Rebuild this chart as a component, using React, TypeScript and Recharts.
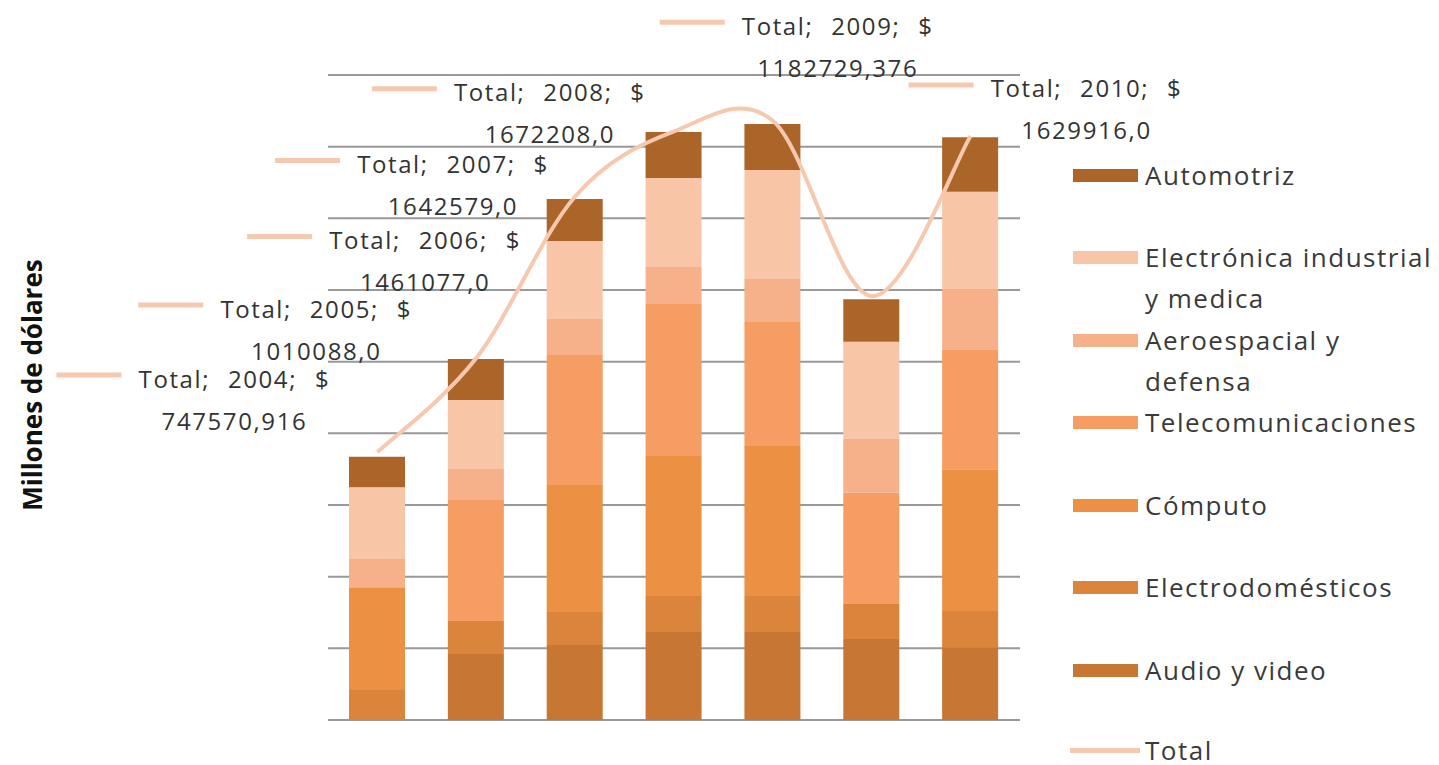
import { Bar, CartesianGrid, ComposedChart, LabelList, Line, XAxis, YAxis } from 'recharts';

const years = ['2004', '2005', '2006', '2007', '2008', '2009', '2010'];

// valores por sector (millones de dólares)
const audioVideo = [0, 184200, 209300, 245600, 245600, 226000, 202900];
const electrodomesticos = [83700, 92100, 92100, 100500, 100500, 99600, 101300];
const computo = [286600, 0, 354400, 390700, 418600, 0, 395400];
const telecomunicaciones = [0, 337700, 362800, 424200, 346000, 308700, 334900];
const aeroespacial = [80900, 88400, 100500, 103300, 120000, 149900, 167400];
const electronicaIndustrial = [198100, 190600, 217700, 248400, 304200, 271500, 272400];
const automotriz = [85400, 114400, 117200, 128400, 128400, 118300, 151800];
const total = [747570.916, 1010088, 1461077, 1642579, 1672208, 1182729.376, 1629916];

const yTicks = [0, 200000, 400000, 600000, 800000, 1000000, 1200000, 1400000, 1600000, 1800000];

// where each "Total" label sits, relative to its point (Excel placed them by hand)
const labelOffsets = [
  [-143, -74],
  [-160, -50],
  [-150, 43],
  [-221, 32],
  [-223, -29],
  [-34, -271],
  [116, -48],
];

const series = [
  { key: 'audio', name: 'Audio y video', color: '#C77634', values: audioVideo },
  { key: 'electro', name: 'Electrodomésticos', color: '#DB843B', values: electrodomesticos },
  { key: 'computo', name: 'Cómputo', color: '#EC9043', values: computo },
  { key: 'telecom', name: 'Telecomunicaciones', color: '#F59D62', values: telecomunicaciones },
  { key: 'aero', name: 'Aeroespacial y\ndefensa', color: '#F6B08A', values: aeroespacial },
  { key: 'electronica', name: 'Electrónica industrial\ny medica', color: '#F8C5A7', values: electronicaIndustrial },
  { key: 'auto', name: 'Automotriz', color: '#AB6529', values: automotriz },
];

const totalColor = '#F7C8B0';

const data = years.map((year, i) => {
  const row: Record<string, string | number> = { year, total: total[i] };
  series.forEach((s) => {
    row[s.key] = s.values[i];
  });
  return row;
});

// Excel-style smoothed line (Catmull-Rom through every point)
function excelSmooth(context: any) {
  let pts: [number, number][] = [];
  return {
    areaStart() {},
    areaEnd() {},
    lineStart() {
      pts = [];
    },
    point(x: number, y: number) {
      pts.push([+x, +y]);
    },
    lineEnd() {
      if (!pts.length) return;
      context.moveTo(pts[0][0], pts[0][1]);
      for (let i = 0; i < pts.length - 1; i++) {
        const p0 = pts[Math.max(i - 1, 0)];
        const p1 = pts[i];
        const p2 = pts[i + 1];
        const p3 = pts[Math.min(i + 2, pts.length - 1)];
        context.bezierCurveTo(
          p1[0] + (p2[0] - p0[0]) / 6,
          p1[1] + (p2[1] - p0[1]) / 6,
          p2[0] - (p3[0] - p1[0]) / 6,
          p2[1] - (p3[1] - p1[1]) / 6,
          p2[0],
          p2[1],
        );
      }
    },
  };
}

const labelFont = {
  fontFamily: '"Open Sans", sans-serif',
  fontSize: 24,
  letterSpacing: 1.6,
  wordSpacing: 10,
  fill: '#333',
};

function formatTotal(v: number) {
  const s = Number.isInteger(v) ? v.toFixed(1) : String(v);
  return s.replace('.', ',');
}

const renderTotalLabel = (props: any) => {
  const { x, y, index, value } = props;
  const [dx, dy] = labelOffsets[index];
  const cx = x + dx;
  const cy = y + dy;
  return (
    <g key={`tl-${index}`}>
      <line x1={cx - 178} x2={cx - 113} y1={cy - 3} y2={cy - 3} stroke={totalColor} strokeWidth={5} />
      <text x={cx} y={cy} textAnchor="middle" dominantBaseline="central" style={labelFont}>
        {`Total; ${years[index]}; $`}
      </text>
      <text x={cx} y={cy + 42} textAnchor="middle" dominantBaseline="central" style={labelFont}>
        {formatTotal(value)}
      </text>
    </g>
  );
};

export default function App() {
  const legendItems = [...series].reverse();
  return (
    <div style={{ position: 'relative', width: 1439, height: 765, background: '#fff', overflow: 'hidden' }}>
      <style>{'body{margin:0}'}</style>
      <ComposedChart
        width={1439}
        height={765}
        data={data}
        margin={{ top: 75, right: 419, bottom: 45, left: 328 }}
      >
        <CartesianGrid vertical={false} stroke="#999" strokeWidth={2} />
        <XAxis dataKey="year" hide />
        <YAxis hide domain={[0, 1800000]} ticks={yTicks} />
        {series.map((s) => (
          <Bar
            key={s.key}
            dataKey={s.key}
            name={s.name}
            stackId="a"
            fill={s.color}
            barSize={56}
            isAnimationActive={false}
          />
        ))}
        <Line
          dataKey="total"
          name="Total"
          type={excelSmooth as any}
          stroke={totalColor}
          strokeWidth={4}
          dot={false}
          isAnimationActive={false}
        >
          <LabelList dataKey="total" content={renderTotalLabel} />
        </Line>
      </ComposedChart>

      <div
        style={{
          position: 'absolute',
          left: 32,
          top: 385,
          transform: 'translate(-50%, -50%) rotate(-90deg)',
          whiteSpace: 'nowrap',
          fontFamily: '"Open Sans", sans-serif',
          fontWeight: 700,
          fontSize: 26,
          lineHeight: '30px',
          color: '#111',
        }}
      >
        Millones de dólares
      </div>

      <div
        style={{
          position: 'absolute',
          left: 1073,
          top: 154.5,
          fontFamily: '"Open Sans", sans-serif',
          fontSize: 26,
          letterSpacing: 1.5,
          lineHeight: '41px',
          color: '#3a3a3a',
        }}
      >
        {legendItems.map((s) => (
          <div key={s.key} style={{ position: 'relative', height: 82.5 }}>
            <div
              style={{ position: 'absolute', left: 0, top: 14, width: 65, height: 13, background: s.color }}
            />
            <div style={{ position: 'absolute', left: 72, top: 0, whiteSpace: 'pre' }}>{s.name}</div>
          </div>
        ))}
        <div style={{ position: 'relative', height: 26 }}>
          <div
            style={{ position: 'absolute', left: -3, top: 16, width: 70, height: 5, background: totalColor }}
          />
          <div style={{ position: 'absolute', left: 72, top: 5, lineHeight: '26px' }}>Total</div>
        </div>
      </div>
    </div>
  );
}
